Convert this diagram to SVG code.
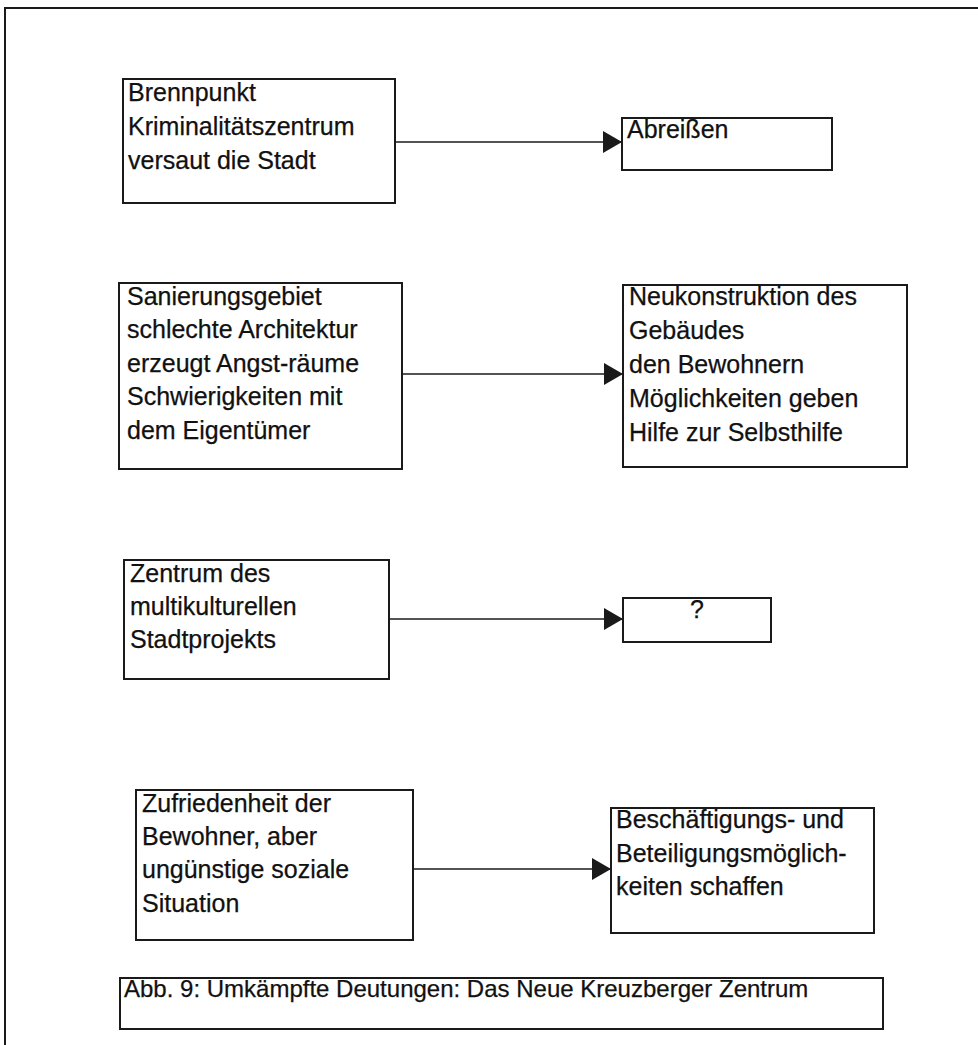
<svg xmlns="http://www.w3.org/2000/svg" width="978" height="1045" viewBox="0 0 978 1045">
  <style>
    .box { fill: #ffffff; stroke: #1a1a1a; stroke-width: 2; }
    .frame { fill: none; stroke: #1a1a1a; stroke-width: 2; }
    .lbl { font-family: "Liberation Sans", Arial, sans-serif; font-size: 25px; fill: #111111; stroke: #111111; stroke-width: 0.25; }
    .cap { font-size: 24px; }
    .edge { stroke: #1a1a1a; stroke-width: 1.6; fill: none; marker-end: url(#arrow); }
  </style>
  <defs>
    <marker id="arrow" markerUnits="userSpaceOnUse" markerWidth="20" markerHeight="22" refX="19" refY="11" orient="auto">
      <path d="M0,0 L19,11 L0,22 Z" fill="#1a1a1a"/>
    </marker>
  </defs>

  <rect width="978" height="1045" fill="#ffffff"/>
  <!-- page frame, running past the right and bottom edges -->
  <rect class="frame" x="5" y="8" width="990" height="1060"/>

  <g id="connectors">
    <line class="edge" x1="395" y1="142" x2="622" y2="142"/>
    <line class="edge" x1="402" y1="374" x2="623" y2="374"/>
    <line class="edge" x1="389" y1="619" x2="623" y2="619"/>
    <line class="edge" x1="413" y1="869" x2="611" y2="869"/>
  </g>

  <g id="brennpunkt">
    <rect class="box" x="123" y="79" width="272" height="124"/>
    <text class="lbl" x="128" y="101">Brennpunkt</text>
    <text class="lbl" x="128" y="135">Kriminalitätszentrum</text>
    <text class="lbl" x="128" y="169">versaut die Stadt</text>
  </g>

  <g id="abreissen">
    <rect class="box" x="622" y="118" width="210" height="52"/>
    <text class="lbl" x="627" y="138">Abreißen</text>
  </g>

  <g id="sanierungsgebiet">
    <rect class="box" x="119" y="283" width="283" height="186"/>
    <text class="lbl" x="127" y="305">Sanierungsgebiet</text>
    <text class="lbl" x="127" y="338">schlechte Architektur</text>
    <text class="lbl" x="127" y="372">erzeugt Angst-räume</text>
    <text class="lbl" x="127" y="405">Schwierigkeiten mit</text>
    <text class="lbl" x="127" y="439">dem Eigentümer</text>
  </g>

  <g id="neukonstruktion">
    <rect class="box" x="623" y="285" width="284" height="182"/>
    <text class="lbl" x="629" y="305">Neukonstruktion des</text>
    <text class="lbl" x="629" y="339">Gebäudes</text>
    <text class="lbl" x="629" y="373">den Bewohnern</text>
    <text class="lbl" x="629" y="407">Möglichkeiten geben</text>
    <text class="lbl" x="629" y="441">Hilfe zur Selbsthilfe</text>
  </g>

  <g id="zentrum">
    <rect class="box" x="124" y="560" width="265" height="119"/>
    <text class="lbl" x="130" y="582">Zentrum des</text>
    <text class="lbl" x="130" y="615">multikulturellen</text>
    <text class="lbl" x="130" y="648">Stadtprojekts</text>
  </g>

  <g id="frage">
    <rect class="box" x="623" y="598" width="148" height="44"/>
    <text class="lbl" x="697" y="618" text-anchor="middle">?</text>
  </g>

  <g id="zufriedenheit">
    <rect class="box" x="136" y="790" width="277" height="150"/>
    <text class="lbl" x="142" y="812">Zufriedenheit der</text>
    <text class="lbl" x="142" y="845">Bewohner, aber</text>
    <text class="lbl" x="142" y="878">ungünstige soziale</text>
    <text class="lbl" x="142" y="912">Situation</text>
  </g>

  <g id="beschaeftigung">
    <rect class="box" x="611" y="808" width="263" height="125"/>
    <text class="lbl" x="616" y="828">Beschäftigungs- und</text>
    <text class="lbl" x="616" y="862">Beteiligungsmöglich-</text>
    <text class="lbl" x="616" y="895">keiten schaffen</text>
  </g>

  <g id="caption">
    <rect class="box" x="120" y="978" width="763" height="51"/>
    <text class="lbl cap" x="124" y="997">Abb. 9: Umkämpfte Deutungen: Das Neue Kreuzberger Zentrum</text>
  </g>
</svg>
